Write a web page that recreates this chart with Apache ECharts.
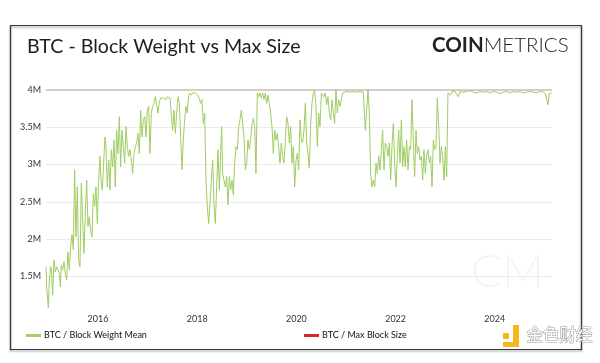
<!DOCTYPE html>
<html><head><meta charset="utf-8">
<script src="https://cdn.jsdelivr.net/npm/echarts@6/dist/echarts.min.js"></script>
<style>html,body{margin:0;padding:0;background:#fff}#c{width:600px;height:363px}</style>
</head><body><div id="c"></div>
<script>
// decimal years of each observation
const years = [
2014.952,2014.965,2014.999,2015.019,2015.046,2015.066,2015.086,2015.113,2015.140,2015.167,2015.194,2015.220,2015.241,2015.261,2015.288,2015.315,2015.341,2015.368,2015.395,2015.422,2015.449,2015.476,2015.503,2015.530,2015.556,2015.583,2015.610,2015.637,2015.664,2015.691,2015.718,2015.745,2015.772,2015.798,2015.825,2015.852,2015.879,2015.906,2015.933,2015.960,2015.987,
2016.013,2016.040,2016.060,2016.087,2016.114,2016.141,2016.161,2016.188,2016.215,2016.242,2016.269,2016.296,2016.323,2016.349,2016.376,2016.403,2016.430,2016.457,2016.484,2016.511,2016.538,2016.565,2016.591,2016.618,2016.645,2016.672,2016.699,2016.726,2016.753,2016.780,2016.806,2016.833,2016.860,2016.887,2016.914,2016.941,2016.968,2016.995,
2017.022,2017.048,2017.075,2017.102,2017.129,2017.156,2017.183,2017.210,2017.237,2017.263,2017.290,2017.317,2017.344,2017.371,2017.398,2017.425,2017.452,2017.478,2017.505,2017.532,2017.559,2017.586,2017.613,2017.640,2017.667,2017.694,2017.720,2017.747,2017.774,2017.801,2017.828,2017.855,2017.882,2017.909,2017.935,2017.962,2017.989,
2018.016,2018.043,2018.070,2018.097,2018.124,2018.151,2018.177,2018.204,2018.231,2018.258,2018.285,2018.312,2018.339,2018.366,2018.392,2018.419,2018.446,2018.473,2018.493,2018.513,2018.540,2018.567,2018.594,2018.621,2018.648,2018.675,2018.702,2018.728,2018.755,2018.782,2018.809,2018.836,2018.863,2018.890,2018.917,2018.944,2018.970,2018.997,
2019.024,2019.051,2019.078,2019.105,2019.132,2019.159,2019.185,2019.212,2019.239,2019.266,2019.293,2019.320,2019.347,2019.374,2019.401,2019.427,2019.454,2019.481,2019.508,2019.535,2019.562,2019.589,2019.616,2019.642,2019.669,2019.696,2019.723,2019.750,2019.777,2019.804,2019.831,2019.858,2019.884,2019.911,2019.938,2019.965,2019.992,
2020.019,2020.046,2020.073,2020.099,2020.126,2020.153,2020.180,2020.207,2020.234,2020.261,2020.288,2020.315,2020.341,2020.368,2020.395,2020.422,2020.449,2020.476,2020.503,2020.530,2020.556,2020.583,2020.610,2020.637,2020.664,2020.691,2020.718,2020.745,2020.771,2020.798,2020.825,2020.852,2020.879,2020.906,2020.933,2020.960,
2021.013,2021.081,2021.148,2021.215,2021.282,2021.349,2021.390,2021.417,2021.444,2021.470,2021.497,2021.524,2021.551,2021.578,2021.605,2021.632,2021.659,2021.685,2021.712,2021.739,2021.766,2021.793,2021.820,2021.847,2021.874,2021.900,2021.927,2021.954,2021.981,
2022.008,2022.035,2022.062,2022.089,2022.116,2022.142,2022.169,2022.196,2022.223,2022.250,2022.277,2022.304,2022.331,2022.357,2022.384,2022.411,2022.438,2022.465,2022.492,2022.519,2022.546,2022.573,2022.599,2022.626,2022.653,2022.680,2022.707,2022.734,2022.761,2022.788,2022.814,2022.841,2022.868,2022.895,2022.922,2022.949,2022.976,
2023.003,2023.030,2023.056,2023.083,2023.110,2023.137,2023.164,2023.198,2023.231,2023.265,2023.298,2023.366,2023.433,2023.500,2023.567,2023.634,2023.702,2023.769,2023.836,2023.903,2023.970,
2024.038,2024.105,2024.172,2024.239,2024.306,2024.374,2024.441,2024.508,2024.575,2024.642,2024.710,2024.777,2024.844,2024.911,2024.978,
2025.019,2025.046,2025.073,2025.099,2025.126,2025.146
];
// BTC / Block Weight Mean, in millions of weight units
const blockWeightMean = [
1.63,1.36,1.08,1.45,1.63,1.56,1.25,1.72,1.56,1.63,1.59,1.54,1.36,1.65,1.59,1.70,1.54,1.45,1.83,1.59,1.90,2.06,1.86,2.93,2.03,2.70,1.72,1.63,2.75,2.26,1.81,2.35,2.79,2.17,2.30,2.12,2.03,2.61,2.44,2.70,2.21,
2.79,3.11,2.79,2.66,3.02,3.37,3.24,2.70,3.06,2.66,3.20,2.97,3.33,2.70,3.46,3.15,3.64,2.97,3.46,3.24,3.02,3.51,3.24,3.11,3.20,3.06,2.88,3.15,3.24,3.29,3.42,3.15,3.73,3.37,3.60,3.64,3.37,3.73,
3.78,3.15,3.69,3.78,3.82,3.91,3.93,3.69,3.84,3.89,3.91,3.89,3.91,3.87,3.91,3.91,3.89,3.87,3.46,3.73,3.42,3.69,3.91,3.82,3.37,2.93,3.33,3.60,3.78,3.69,3.93,3.96,3.93,3.96,3.96,3.96,3.96,
3.93,3.91,3.82,3.87,3.55,3.69,2.79,2.44,2.21,2.48,2.79,3.06,2.44,2.21,2.70,3.20,2.66,3.15,3.51,2.88,2.79,2.70,2.84,2.46,2.84,2.66,2.79,2.59,3.02,3.24,3.20,3.51,3.60,3.73,3.55,3.37,2.93,3.02,
3.33,3.20,3.33,3.55,3.62,3.51,2.88,3.96,3.91,3.96,3.89,3.96,3.87,3.96,3.82,3.93,3.91,3.69,3.51,3.15,3.46,3.33,3.42,3.24,3.02,3.29,3.11,3.02,3.33,3.64,3.55,3.29,3.51,3.02,3.24,2.70,3.06,
3.15,2.93,3.60,3.33,3.29,3.46,3.82,3.29,3.15,2.95,3.55,3.82,3.96,4.00,3.78,3.24,3.69,3.51,3.96,3.96,3.91,3.96,3.80,3.91,3.69,3.60,3.87,3.69,3.55,4.00,3.69,3.87,3.78,3.87,3.96,3.98,
3.98,3.97,3.98,3.97,3.98,3.97,3.46,3.73,4.00,3.69,2.88,2.70,2.79,2.70,3.02,2.88,3.11,2.93,3.20,3.46,2.93,3.29,3.24,3.11,3.29,2.79,3.24,3.55,3.02,
2.70,3.11,3.46,3.02,3.60,2.97,3.24,2.97,3.33,2.93,3.24,3.20,3.87,3.33,2.84,3.46,3.15,3.24,3.06,3.11,2.79,3.20,2.88,3.11,3.20,3.02,3.11,2.70,3.33,3.20,3.24,3.89,3.55,3.02,3.24,3.11,2.79,
3.24,2.84,3.96,3.96,3.93,3.98,3.96,3.98,3.97,3.91,3.98,3.97,3.98,3.99,3.97,3.96,3.98,3.97,3.98,3.96,3.98,
3.97,3.95,3.97,3.98,3.96,3.98,3.97,3.98,3.96,3.97,3.98,3.97,3.96,3.98,3.97,
3.95,3.88,3.80,3.95,3.97,3.96
];
// BTC / Max Block Size (constant 4M weight units)
const maxBlockYears = [2014.952, 2025.153];
const maxBlockSize = [4, 4];
const xTickYears = [2016, 2018, 2020, 2022, 2024];
const seriesNames = ['BTC / Block Weight Mean', 'BTC / Max Block Size'];
const titleText = 'BTC - Block Weight vs Max Size';

const chart = echarts.init(document.getElementById('c'), null, {renderer: 'canvas'});
const font = 'Lato, "Noto Sans", sans-serif';
chart.setOption({
  backgroundColor: '#ffffff',
  animation: false,
  title: {
    text: titleText, left: 22, top: 32,
    textStyle: {fontFamily: font, fontSize: 19.6, fontWeight: 'normal', color: '#1e1e1e'}
  },
  legend: [
    {data: [{name: seriesNames[0], itemStyle: {color: '#a2d068'}}], left: 21, top: 326, icon: 'rect', itemWidth: 15, itemHeight: 3, itemGap: 4,
     textStyle: {fontFamily: font, fontSize: 9, color: '#111', padding: [0,0,0,-2]}},
    {data: [{name: seriesNames[1], itemStyle: {color: '#d9232e'}}], left: 299, top: 326, icon: 'rect', itemWidth: 15, itemHeight: 3, itemGap: 4,
     textStyle: {fontFamily: font, fontSize: 9, color: '#111', padding: [0,0,0,-2]}}
  ],
  grid: {left: 46, right: 48, top: 82.5, bottom: 49.2, outerBoundsMode: 'none'},
  xAxis: {
    type: 'value', min: 2014.952, max: 2025.153,
    axisLine: {show: false}, axisTick: {show: false}, splitLine: {show: false},
    axisLabel: {customValues: xTickYears, formatter: v => String(v), fontFamily: font, fontSize: 9, color: '#333', margin: 1}
  },
  yAxis: {
    type: 'value', min: 1, max: 4.1, interval: 0.5,
    axisLine: {show: false}, axisTick: {show: false},
    splitLine: {show: true, showMinLine: false, showMaxLine: false, lineStyle: {color: '#ececec', width: 1}},
    axisLabel: {showMinLabel: false, formatter: v => v + 'M', fontFamily: font, fontSize: 9, color: '#333', margin: 5}
  },
  series: [
    {name: seriesNames[0], type: 'line', showSymbol: false, z: 3,
     data: years.map((y, i) => [y, blockWeightMean[i]]),
     lineStyle: {color: '#9fce63', width: 1}, itemStyle: {color: '#a2d068'}},
    {name: seriesNames[1], type: 'line', showSymbol: false, z: 2,
     data: maxBlockYears.map((y, i) => [y, maxBlockSize[i]]),
     lineStyle: {color: '#b9a2a4', width: 1}, itemStyle: {color: '#d9232e'}}
  ],
  graphic: [
    {type: 'rect', z: -1, shape: {x: 10.5, y: 25.5, width: 571, height: 324},
     style: {fill: 'none', stroke: '#3a3a3a', lineWidth: 1.2, shadowBlur: 2, shadowOffsetY: 1.5, shadowColor: 'rgba(0,0,0,0.45)'}},
    {type: 'text', left: 432, top: 35, z: 5,
     style: {text: '{a|COIN}{b|METRICS}', rich: {
       a: {fontFamily: font, fontSize: 20.5, fontWeight: 'bold', fill: '#222'},
       b: {fontFamily: font, fontSize: 20.5, fontWeight: 300, fill: '#222'}}}},
    {type: 'text', left: 471, top: 249, z: 0,
     style: {text: 'CM', fontFamily: font, fontSize: 46, fontWeight: 300, fill: 'rgba(0,0,0,0.045)'}},
    {type: 'rect', z: 10, shape: {x: 503, y: 333, width: 6, height: 6}, style: {fill: '#f5b91e'}},
    {type: 'polygon', z: 10, shape: {points: [[513,325],[519,325],[519,347],[503,347],[503,342],[513,342]]}, style: {fill: '#f5b91e'}},
    {type: 'text', left: 526, top: 326, z: 10,
     style: {text: '金色财经', fontFamily: '"Noto Sans CJK SC"', fontSize: 16.5, fill: '#ffffff', stroke: '#9a9a9a', lineWidth: 1}}
  ]
});
</script></body></html>
